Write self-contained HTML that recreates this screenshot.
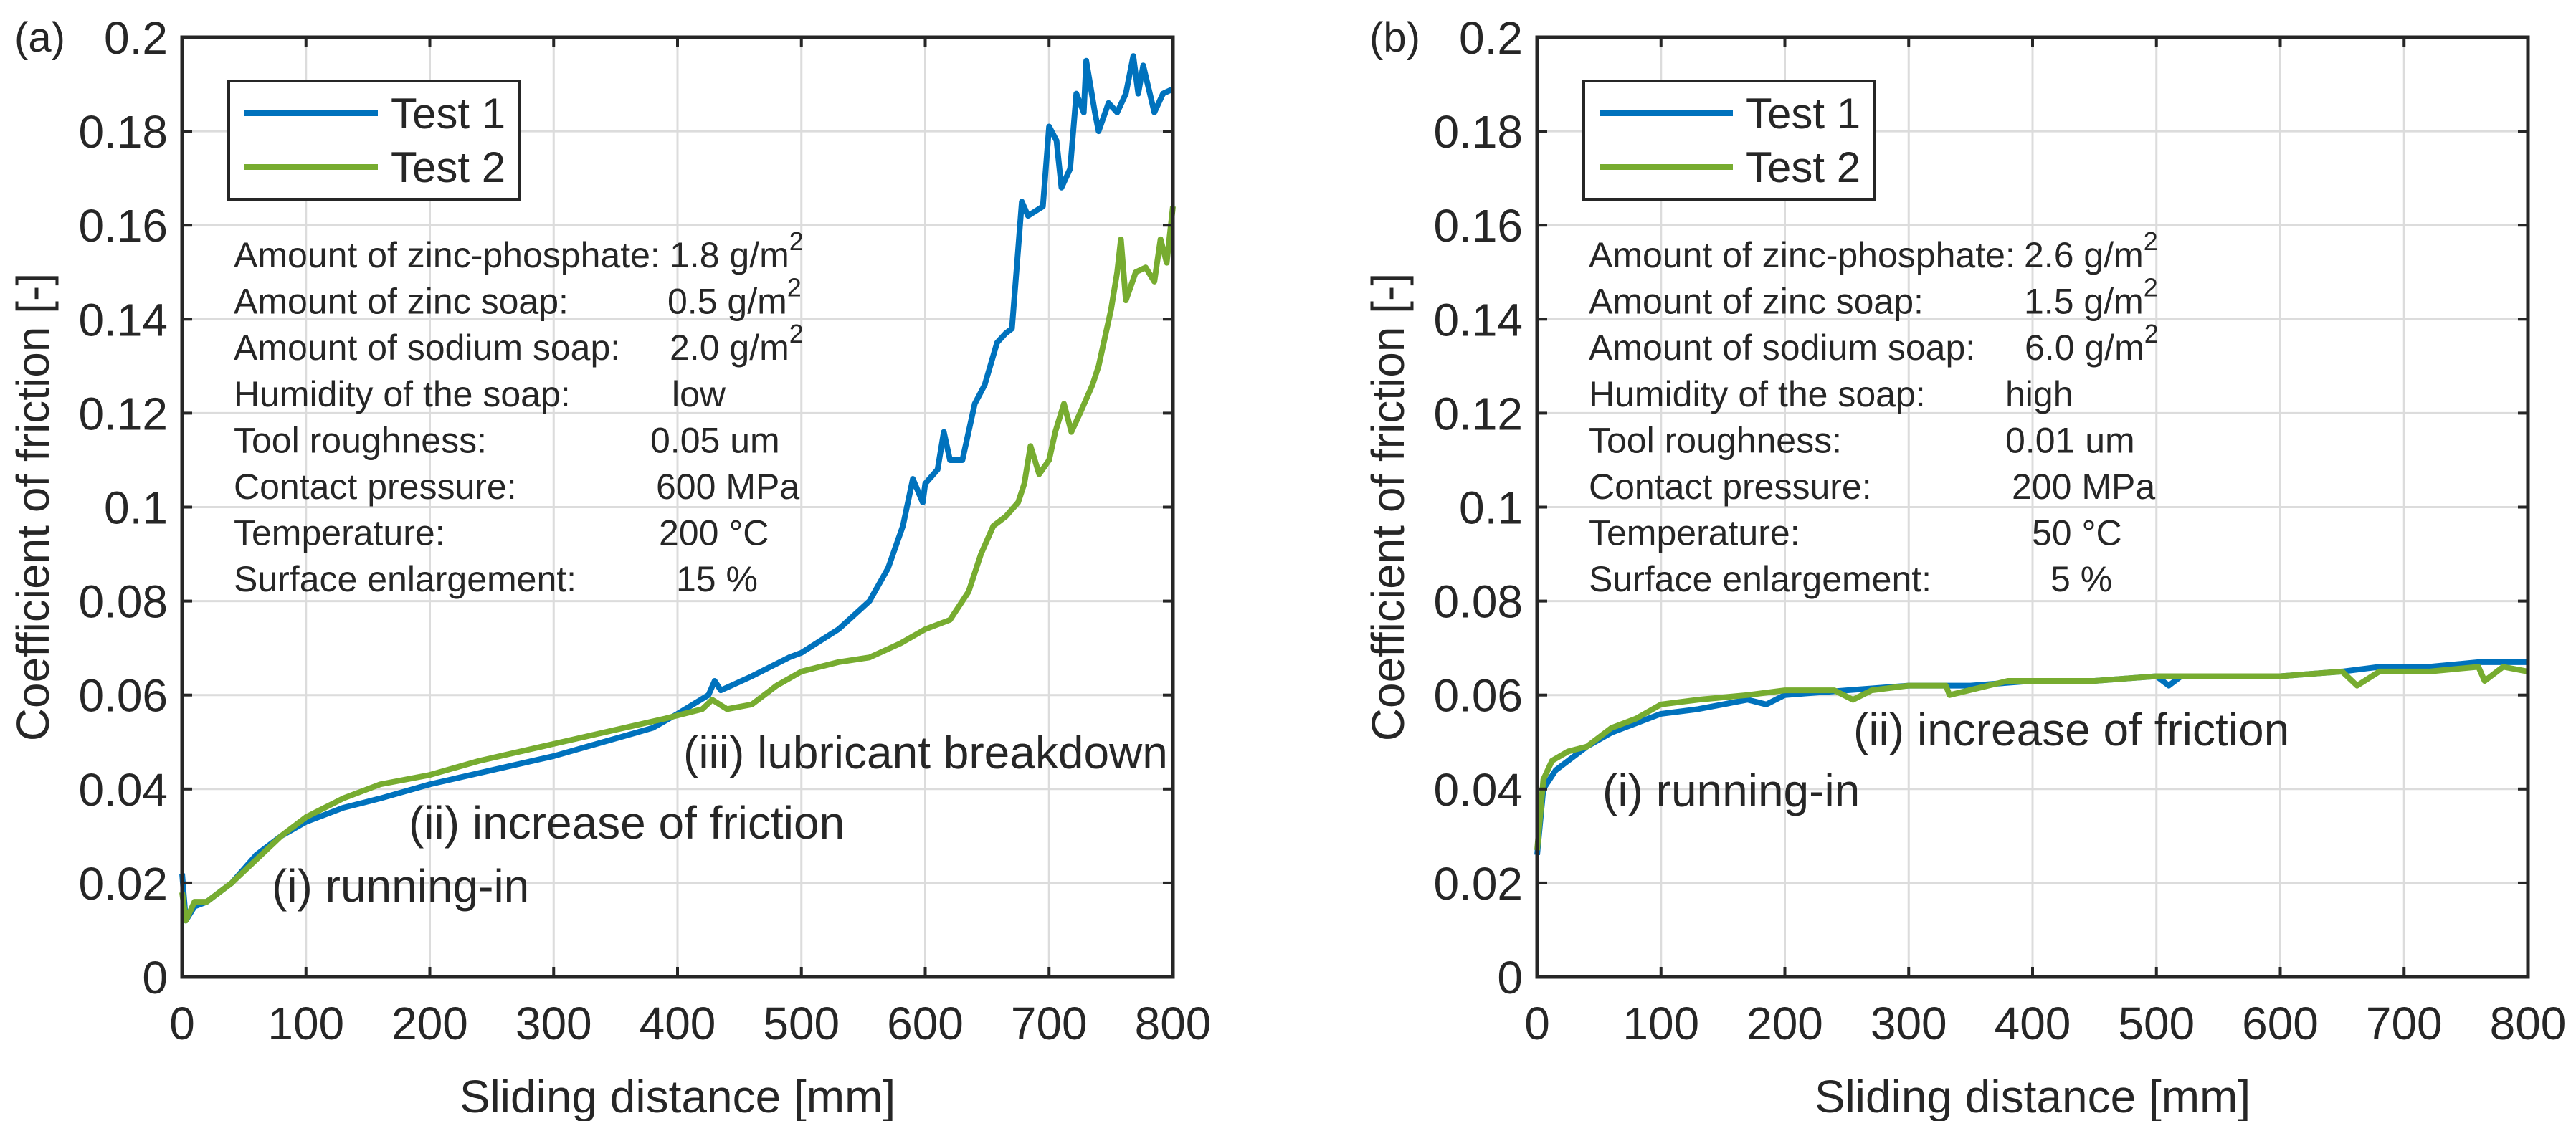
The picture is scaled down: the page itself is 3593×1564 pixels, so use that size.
<!DOCTYPE html>
<html><head><meta charset="utf-8"><style>
html,body{margin:0;padding:0;background:#fff}
svg{display:block}
text{font-family:"Liberation Sans",Arial,sans-serif;fill:#262626}
</style></head><body>
<svg id="chart" width="3593" height="1564" viewBox="0 0 3593 1564" xmlns="http://www.w3.org/2000/svg"></svg>
<script>
const xTicks=[0,100,200,300,400,500,600,700,800];
const yTicks=[0,0.02,0.04,0.06,0.08,0.1,0.12,0.14,0.16,0.18,0.2];
const yTickLabels=["0","0.02","0.04","0.06","0.08","0.1","0.12","0.14","0.16","0.18","0.2"];
const aTest1X=[0,3,10,20,40,60,80,100,130,160,200,250,300,340,380,400,425,430,435,460,490,500,530,555,570,582,590,598,600,610,615,620,630,640,648,658,665,670,673,678,683,695,700,706,710,717,722,728,730,737,740,748,755,762,768,772,776,785,792,800];
const aTest1Y=[0.022,0.012,0.015,0.016,0.020,0.026,0.030,0.033,0.036,0.038,0.041,0.044,0.047,0.050,0.053,0.056,0.060,0.063,0.061,0.064,0.068,0.069,0.074,0.080,0.087,0.096,0.106,0.101,0.105,0.108,0.116,0.110,0.110,0.122,0.126,0.135,0.137,0.138,0.148,0.165,0.162,0.164,0.181,0.178,0.168,0.172,0.188,0.184,0.195,0.184,0.180,0.186,0.184,0.188,0.196,0.188,0.194,0.184,0.188,0.189];
const aTest2X=[0,3,10,20,40,60,80,100,130,160,200,240,290,340,390,420,428,440,460,480,500,530,555,580,600,620,635,645,655,665,675,680,685,692,700,705,712,718,725,735,740,750,755,758,762,770,778,785,790,795,800];
const aTest2Y=[0.018,0.012,0.016,0.016,0.020,0.025,0.030,0.034,0.038,0.041,0.043,0.046,0.049,0.052,0.055,0.057,0.059,0.057,0.058,0.062,0.065,0.067,0.068,0.071,0.074,0.076,0.082,0.090,0.096,0.098,0.101,0.105,0.113,0.107,0.110,0.116,0.122,0.116,0.120,0.126,0.130,0.142,0.150,0.157,0.144,0.150,0.151,0.148,0.157,0.152,0.164];
const bTest1X=[0,5,15,25,40,60,80,100,130,170,185,200,250,300,350,400,450,500,510,520,600,650,680,720,760,800];
const bTest1Y=[0.026,0.040,0.044,0.046,0.049,0.052,0.054,0.056,0.057,0.059,0.058,0.060,0.061,0.062,0.062,0.063,0.063,0.064,0.062,0.064,0.064,0.065,0.066,0.066,0.067,0.067];
const bTest2X=[0,5,12,25,40,60,80,100,130,170,200,240,255,270,300,330,333,380,400,450,500,560,600,650,662,680,720,760,765,780,800];
const bTest2Y=[0.027,0.042,0.046,0.048,0.049,0.053,0.055,0.058,0.059,0.060,0.061,0.061,0.059,0.061,0.062,0.062,0.060,0.063,0.063,0.063,0.064,0.064,0.064,0.065,0.062,0.065,0.065,0.066,0.063,0.066,0.065];
const aInfoLabels=["Amount of zinc-phosphate:","Amount of zinc soap:","Amount of sodium soap:","Humidity of the soap:","Tool roughness:","Contact pressure:","Temperature:","Surface enlargement:"];
const aInfoValues=["1.8 g/m","0.5 g/m","2.0 g/m","low","0.05 um","600 MPa","200 °C","15 %"];
const bInfoValues=["2.6 g/m","1.5 g/m","6.0 g/m","high","0.01 um","200 MPa","50 °C","5 %"];
const aValueX=[934,931,934,937,907,915,919,943];
const bValueX=[933,933,934,907,907,916,944,970];

const NS="http://www.w3.org/2000/svg";
const svg=document.getElementById('chart');
function mk(tag,attrs,parent){const e=document.createElementNS(NS,tag);for(const k in attrs)e.setAttribute(k,attrs[k]);(parent||svg).appendChild(e);return e;}
const W=1382,T=52,B=1363;

function panel(id,L,s1x,s1y,s2x,s2y,vals,valX,phases){
  const g=mk('g',{});
  
  
  const xs=d=>L+d/800*W, ys=v=>B-v/0.2*(B-T);
  xTicks.forEach(t=>{const l=mk('line',{x1:xs(t),x2:xs(t),y1:T,y2:B,stroke:'#dcdcdc','stroke-width':3},g);
    });
  yTicks.forEach(t=>{const l=mk('line',{x1:L,x2:L+W,y1:ys(t),y2:ys(t),stroke:'#dcdcdc','stroke-width':3},g);
    });
  function line(xa,ya,col,name){const p=mk('polyline',{points:xa.map((d,i)=>xs(d)+','+ys(ya[i])).join(' '),fill:'none',stroke:col,'stroke-width':8,'stroke-linejoin':'round'},g);
    }
  line(s1x,s1y,'#0072BD','test-1-line');
  line(s2x,s2y,'#77AC30','test-2-line');
  const ax=mk('rect',{x:L,y:T,width:W,height:B-T,fill:'none',stroke:'#262626','stroke-width':5},g);
  
  xTicks.forEach((t,i)=>{mk('line',{x1:xs(t),x2:xs(t),y1:B,y2:B-14,stroke:'#262626','stroke-width':4},g);
    mk('line',{x1:xs(t),x2:xs(t),y1:T,y2:T+14,stroke:'#262626','stroke-width':4},g);
    const tx=mk('text',{x:xs(t),y:1450,'font-size':64,'text-anchor':'middle'},g);tx.textContent=t;
    });
  yTicks.forEach((t,i)=>{mk('line',{x1:L,x2:L+14,y1:ys(t),y2:ys(t),stroke:'#262626','stroke-width':4},g);
    mk('line',{x1:L+W,x2:L+W-14,y1:ys(t),y2:ys(t),stroke:'#262626','stroke-width':4},g);
    const tx=mk('text',{x:L-20,y:ys(t)+23,'font-size':64,'text-anchor':'end'},g);tx.textContent=yTickLabels[i];
    });
  const xl=mk('text',{x:L+W/2,y:1552,'font-size':64,'text-anchor':'middle'},g);xl.textContent='Sliding distance [mm]';
  
  const yl=mk('text',{x:0,y:0,'font-size':64,'text-anchor':'middle',transform:`translate(${L-186},${(T+B)/2}) rotate(-90)`},g);yl.textContent='Coefficient of friction [-]';
  
  const pl=mk('text',{x:L-234,y:72,'font-size':58},g);pl.textContent=id==='a'?'(a)':'(b)';
  
  const lg=mk('g',{},g);
  mk('rect',{x:L+65,y:113,width:406,height:165,fill:'#fff',stroke:'#262626','stroke-width':4},lg);
  [['Test 1','#0072BD',158],['Test 2','#77AC30',233]].forEach(([n,c,y])=>{
    const e=mk('g',{},lg);
    mk('line',{x1:L+87,x2:L+273,y1:y,y2:y,stroke:c,'stroke-width':8},e);
    const t=mk('text',{x:L+291,y:y+21,'font-size':60},e);t.textContent=n;});
  aInfoLabels.forEach((lab,i)=>{const y=373+i*64.6;
    const t=mk('text',{x:L+72,y:y,'font-size':50},g);t.textContent=lab;
    
    const v=mk('text',{x:L+valX[i]-254,y:y,'font-size':50},g);v.textContent=vals[i];
    
    if(i<3){const s=mk('tspan',{dy:-24,'font-size':36},v);s.textContent='2';}
  });
  phases.forEach(([txt,x,y])=>{const t=mk('text',{x:L+x,y:y,'font-size':64},g);t.textContent=txt;
    });
}
panel('a',254,aTest1X,aTest1Y,aTest2X,aTest2Y,aInfoValues,aValueX,
  [['(i) running-in',125,1258],['(ii) increase of friction',316,1170],['(iii) lubricant breakdown',699,1072]]);
panel('b',2144,bTest1X,bTest1Y,bTest2X,bTest2Y,bInfoValues,bValueX,
  [['(i) running-in',91,1125],['(ii) increase of friction',441,1040]]);
</script>
</body></html>
